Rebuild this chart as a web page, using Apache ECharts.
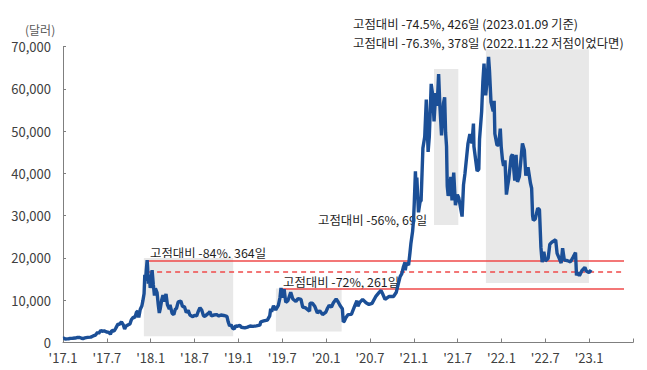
<!DOCTYPE html>
<html><head><meta charset="utf-8">
<script src="https://cdn.jsdelivr.net/npm/echarts@6/dist/echarts.min.js"></script>
<style>html,body{margin:0;padding:0;background:#fff}#c{width:647px;height:370px}</style>
</head><body><div id="c"></div>
<script>
const dates = ['2017-01-01','2017-01-05','2017-01-11','2017-01-18','2017-01-25','2017-02-01','2017-02-10','2017-02-20','2017-03-01','2017-03-10','2017-03-18','2017-03-24','2017-04-01','2017-04-12','2017-04-25','2017-05-05','2017-05-15','2017-05-24','2017-05-28','2017-06-06','2017-06-12','2017-06-20','2017-06-30','2017-07-10','2017-07-16','2017-07-22','2017-08-01','2017-08-08','2017-08-17','2017-08-24','2017-09-01','2017-09-08','2017-09-14','2017-09-20','2017-09-29','2017-10-06','2017-10-12','2017-10-20','2017-10-27','2017-11-03','2017-11-08','2017-11-12','2017-11-18','2017-11-25','2017-11-29','2017-12-04','2017-12-07','2017-12-10','2017-12-13','2017-12-17','2017-12-19','2017-12-22','2017-12-26','2017-12-30',
'2018-01-03','2018-01-07','2018-01-12','2018-01-17','2018-01-21','2018-01-28','2018-02-02','2018-02-06','2018-02-10','2018-02-15','2018-02-20','2018-02-25','2018-03-04','2018-03-10','2018-03-18','2018-03-21','2018-03-30','2018-04-06','2018-04-12','2018-04-17','2018-04-24','2018-05-05','2018-05-12','2018-05-20','2018-05-28','2018-06-05','2018-06-12','2018-06-24','2018-07-01','2018-07-10','2018-07-17','2018-07-24','2018-08-01','2018-08-08','2018-08-14','2018-08-22','2018-08-30','2018-09-04','2018-09-10','2018-09-20','2018-10-01','2018-10-11','2018-10-20','2018-11-01','2018-11-14','2018-11-19','2018-11-25','2018-12-01','2018-12-07','2018-12-15','2018-12-20','2018-12-26',
'2019-01-07','2019-01-14','2019-01-28','2019-02-08','2019-02-18','2019-03-01','2019-03-15','2019-03-30','2019-04-03','2019-04-15','2019-04-30','2019-05-10','2019-05-14','2019-05-18','2019-05-26','2019-06-04','2019-06-15','2019-06-22','2019-06-26','2019-07-02','2019-07-09','2019-07-16','2019-07-25','2019-08-06','2019-08-15','2019-08-28','2019-09-06','2019-09-18','2019-09-25','2019-10-07','2019-10-24','2019-10-26','2019-11-05','2019-11-15','2019-11-25','2019-12-05','2019-12-17','2019-12-31',
'2020-01-07','2020-01-14','2020-01-24','2020-02-01','2020-02-12','2020-02-20','2020-02-28','2020-03-08','2020-03-12','2020-03-16','2020-03-22','2020-04-01','2020-04-15','2020-04-29','2020-05-08','2020-05-12','2020-05-20','2020-06-01','2020-06-15','2020-06-27','2020-07-10','2020-07-27','2020-08-10','2020-08-17','2020-08-25','2020-09-03','2020-09-20','2020-10-08','2020-10-20','2020-10-27','2020-11-05','2020-11-12','2020-11-18','2020-11-25','2020-11-26','2020-12-01','2020-12-10','2020-12-16','2020-12-20','2020-12-27','2020-12-31',
'2021-01-03','2021-01-08','2021-01-11','2021-01-14','2021-01-21','2021-01-28','2021-02-01','2021-02-08','2021-02-15','2021-02-21','2021-02-28','2021-03-05','2021-03-13','2021-03-20','2021-03-25','2021-04-01','2021-04-07','2021-04-13','2021-04-18','2021-04-25','2021-05-03','2021-05-08','2021-05-12','2021-05-16','2021-05-19','2021-05-23','2021-05-28','2021-06-03','2021-06-08','2021-06-15','2021-06-22','2021-06-30','2021-07-06','2021-07-20','2021-07-26','2021-08-01','2021-08-14','2021-08-22','2021-08-31','2021-09-06','2021-09-08','2021-09-21','2021-09-28','2021-10-01','2021-10-10','2021-10-15','2021-10-20','2021-10-27','2021-11-01','2021-11-08','2021-11-12','2021-11-18','2021-11-27','2021-12-01','2021-12-04','2021-12-13','2021-12-20','2021-12-27','2021-12-31',
'2022-01-05','2022-01-10','2022-01-16','2022-01-22','2022-01-27','2022-02-01','2022-02-10','2022-02-15','2022-02-24','2022-03-01','2022-03-07','2022-03-15','2022-03-28','2022-04-05','2022-04-11','2022-04-20','2022-04-30','2022-05-05','2022-05-09','2022-05-12','2022-05-20','2022-05-31','2022-06-07','2022-06-13','2022-06-18','2022-06-25','2022-07-01','2022-07-13','2022-07-20','2022-07-30','2022-08-14','2022-08-20','2022-08-30','2022-09-06','2022-09-12','2022-09-19','2022-09-30','2022-10-15','2022-10-25','2022-11-05','2022-11-09','2022-11-15','2022-11-21','2022-12-01','2022-12-14','2022-12-20','2022-12-31','2023-01-05','2023-01-09'];
const prices = [970,1000,780,870,890,980,990,1050,1220,1190,1000,930,1080,1200,1280,1550,1750,2450,2100,2870,2650,2750,2480,2400,1930,2830,2720,3400,4350,4320,4900,4250,3230,3900,4200,4380,5400,6000,5900,7200,7400,5900,7800,8700,9900,11600,16000,14600,16900,19500,17800,13900,16000,12900,
15000,17100,13800,11100,12800,11800,8900,7000,8100,10000,11200,9700,11500,8900,7900,8900,6900,6600,7900,8100,9600,9800,8500,8500,7100,7600,6500,6100,6400,6300,7400,8200,7600,6300,6200,6600,7000,7300,6300,6500,6600,6300,6500,6400,6200,4900,3900,4200,3400,3200,4000,3800,
4050,3600,3450,3650,3900,3820,3950,4100,4900,5100,5300,6300,8000,7300,8700,7700,8800,10700,12900,10600,12600,9500,9900,11900,10300,9700,10400,10200,8400,8200,7400,9300,9300,8500,7000,7500,6600,7200,
8100,8800,8400,9400,10300,9600,8700,8000,4900,5000,5800,6600,6650,8700,9900,8600,9500,10200,9400,9000,9250,11000,11900,12300,11400,10200,10900,10900,11900,13600,15600,16300,17800,19000,17100,18800,18300,21300,23500,26300,29000,
32800,40500,35500,39000,30800,33400,33500,46000,48700,57500,45100,48800,61200,58300,52300,59000,56000,63500,56200,49000,56600,58000,49700,46400,37000,34700,35600,39200,33600,40200,32500,35000,34200,29800,37300,39900,47100,49300,47100,51800,46400,40600,41000,48100,54700,61600,66000,58500,61300,67600,64200,56900,54700,57200,49400,46700,46700,50600,46300,
43400,41800,43100,35000,37000,38700,44000,44500,38300,44400,38000,39300,47100,45500,39500,41500,37700,36500,30100,28900,29200,31800,31400,22500,19000,21500,19300,19900,23200,23800,24300,21100,19800,18800,22300,19500,19400,19100,20100,21300,15900,16600,15800,17000,17800,16900,16550,16850,17200];

const yTicks = [0,10000,20000,30000,40000,50000,60000,70000];
const xTickLabels = ["'17.1","'17.7","'18.1","'18.7","'19.1","'19.7","'20.1","'20.7","'21.1","'21.7","'22.1","'22.7","'23.1"];

// shaded drawdown periods: [start, end, low, high]
const boxStart = ['2017-12-03','2019-06-05','2021-03-25','2021-10-28'];
const boxEnd   = ['2018-12-10','2020-03-05','2021-07-04','2022-12-31'];
const boxLow   = [1500, 2600, 27800, 14100];
const boxHigh  = [20000, 12800, 64700, 69400];

// reference levels
const refStart = ['2017-12-21','2017-12-21','2019-06-28'];
const refEnd   = '2023-05-25';
const refValue = [19350, 16750, 12800];
const refDashed = [false, true, false];

const notes = ['고점대비 -84%, 364일','고점대비 -72%, 261일','고점대비 -56%, 69일','고점대비 -74.5%, 426일 (2023.01.09 기준)','고점대비 -76.3%, 378일 (2022.11.22 저점이었다면)'];
const unitLabel = '(달러)';

function toM(s){const p=s.split('-').map(Number);const dim=new Date(p[0],p[1],0).getDate();return (p[0]-2017)*12+(p[1]-1)+(p[2]-1)/dim;}

const FONT = "'Liberation Sans Narrow','Arial Narrow','Noto Sans CJK KR',sans-serif";
const chart = echarts.init(document.getElementById('c'), null, {renderer:'svg'});
const seriesData = dates.map((d,i)=>[toM(d), prices[i]]);
const red = '#ef4a4a';
const noteFont = "12.4px "+FONT;

chart.setOption({
  animation:false,
  grid:{left:63,right:14,top:46.7,bottom:27.5,containLabel:false},
  xAxis:{type:'value',min:0,max:78,interval:6,
    axisLine:{lineStyle:{color:'#7f7f7f',width:1}},
    axisTick:{inside:true,length:4,lineStyle:{color:'#7f7f7f'}},
    splitLine:{show:false},
    axisLabel:{fontFamily:FONT,fontSize:13,color:'#404040',margin:8,
      formatter:v=>{const i=Math.round(v/6);return i<xTickLabels.length?xTickLabels[i]:'';}}},
  yAxis:{type:'value',min:0,max:70000,interval:10000,
    axisLine:{show:true,lineStyle:{color:'#7f7f7f',width:1}},
    axisTick:{show:true,inside:true,length:3,lineStyle:{color:'#7f7f7f'}},
    splitLine:{show:false},
    axisLabel:{fontFamily:FONT,fontSize:13,color:'#404040',margin:12,
      formatter:v=>yTicks.includes(v)?v.toLocaleString('en-US'):''}},
  graphic:[
    {type:'text',x:25,y:29,style:{text:unitLabel,font:"12px 'Noto Sans CJK KR',sans-serif",fill:'#595959',verticalAlign:'middle'}},
    {type:'text',x:150,y:253,style:{text:notes[0],font:noteFont,fill:'#1f1f1f',verticalAlign:'middle'}},
    {type:'text',x:283,y:281.5,style:{text:notes[1],font:noteFont,fill:'#1f1f1f',verticalAlign:'middle'}},
    {type:'text',x:318,y:220,style:{text:notes[2],font:noteFont,fill:'#1f1f1f',verticalAlign:'middle'}},
    {type:'text',x:353,y:24,style:{text:notes[3],font:noteFont,fill:'#1f1f1f',verticalAlign:'middle'}},
    {type:'text',x:353,y:42.5,style:{text:notes[4],font:noteFont,fill:'#1f1f1f',verticalAlign:'middle'}}
  ],
  series:[{
    type:'line',data:seriesData,showSymbol:false,symbol:'none',clip:false,
    lineStyle:{color:'#1b4f97',width:3.4},z:5,
    markArea:{silent:true,itemStyle:{color:'#e8e8e8'},
      data:boxStart.map((s,i)=>[{coord:[toM(s),boxLow[i]]},{coord:[toM(boxEnd[i]),boxHigh[i]]}])},
    markLine:{silent:true,symbol:'none',label:{show:false},animation:false,
      data:refValue.map((v,i)=>[{coord:[toM(refStart[i]),v],lineStyle:{color:red,width:1.5,type:refDashed[i]?[5,4]:'solid'}},{coord:[toM(refEnd),v]}])}
  }]
});
</script></body></html>
